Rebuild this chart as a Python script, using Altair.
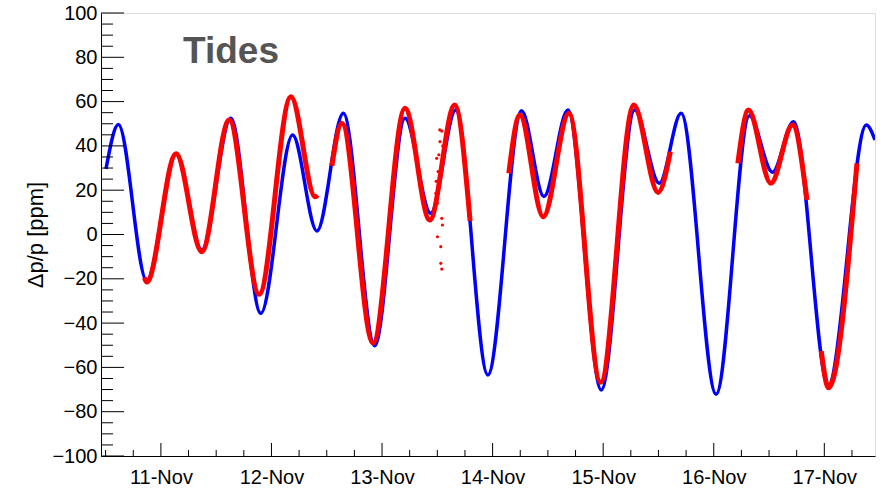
import altair as alt
import pandas as pd

FONT = "Liberation Sans"

# ---- tide model (blue): times and values read at extrema ----
blue_time = [
    "2023-11-10T12:05", "2023-11-10T14:46", "2023-11-10T20:55", "2023-11-11T03:18",
    "2023-11-11T08:52", "2023-11-11T15:10", "2023-11-11T21:41", "2023-11-12T04:35",
    "2023-11-12T09:52", "2023-11-12T15:36", "2023-11-12T22:24", "2023-11-13T04:59",
    "2023-11-13T10:34", "2023-11-13T16:00", "2023-11-13T22:58", "2023-11-14T06:17",
    "2023-11-14T11:08", "2023-11-14T16:21", "2023-11-14T23:35", "2023-11-15T06:50",
    "2023-11-15T12:11", "2023-11-15T16:55", "2023-11-16T00:31", "2023-11-16T07:45",
    "2023-11-16T12:45", "2023-11-16T17:19", "2023-11-17T00:52", "2023-11-17T09:07",
    "2023-11-17T11:00",
]
blue_val = [
    29.6, 49.7, -20.8, 36.2,
    -7.0, 52.5, -35.6, 44.9,
    1.6, 54.7, -50.2, 52.5,
    9.6, 56.2, -63.4, 55.9,
    17.1, 56.2, -70.2, 56.2,
    23.1, 54.7, -72.1, 53.6,
    28.1, 50.9, -68.0, 49.4,
    42.7,
]

# ---- measurements (red), in segments separated by gaps ----
red_seg = [1] * 9 + [2] * 7 + [3] * 8 + [4] * 5 + [5] * 3
red_time = [
    "2023-11-10T20:25", "2023-11-10T20:55", "2023-11-11T03:18", "2023-11-11T08:52",
    "2023-11-11T14:49", "2023-11-11T21:20", "2023-11-12T04:13", "2023-11-12T09:30",
    "2023-11-12T10:01",
    "2023-11-12T13:07", "2023-11-12T15:17", "2023-11-12T22:02", "2023-11-13T04:59",
    "2023-11-13T10:21", "2023-11-13T15:47", "2023-11-13T19:07",
    "2023-11-14T03:31", "2023-11-14T05:55", "2023-11-14T10:59", "2023-11-14T16:34",
    "2023-11-14T23:27", "2023-11-15T06:38", "2023-11-15T11:55", "2023-11-15T14:35",
    "2023-11-16T05:14", "2023-11-16T07:32", "2023-11-16T12:24", "2023-11-16T17:06",
    "2023-11-16T20:14",
    "2023-11-16T23:20", "2023-11-17T00:55", "2023-11-17T07:05",
]
red_val = [
    -19.5, -21.5, 36.5, -7.8,
    51.7, -27.0, 62.2, 17.0,
    17.8,
    31.0, 50.2, -49.0, 57.0,
    6.5, 58.5, 6.1,
    27.6, 54.0, 8.0, 54.7,
    -66.7, 58.5, 19.0, 37.4,
    32.1, 56.2, 23.1, 49.4,
    15.6,
    -52.6, -69.2, 32.1,
]

# scattered measurement points on 13-Nov afternoon
out_time = [
    "2023-11-13T12:32", "2023-11-13T12:58", "2023-11-13T11:52", "2023-11-13T12:35",
    "2023-11-13T12:10", "2023-11-13T11:40", "2023-11-13T12:02", "2023-11-13T12:58",
    "2023-11-13T13:07", "2023-11-13T12:02", "2023-11-13T12:45", "2023-11-13T12:45",
    "2023-11-13T12:58", "2023-11-13T12:20", "2023-11-13T13:10", "2023-11-13T11:45",
]
out_val = [
    47.2, 46.7, 34.4, 41.9,
    28.4, 18.6, 14.1, 7.3,
    4.3, -1.0, -5.5, -13.0,
    -15.6, 36.0, 40.0, 24.0,
]

y_label_values = [-100, -80, -60, -40, -20, 0, 20, 40, 60, 80, 100]
title_text = "Tides"
y_title = "Δp/p [ppm]"

W, H = 774, 443

blue_df = pd.DataFrame({"t": blue_time, "v": blue_val})
red_df = pd.DataFrame({"t": red_time, "v": red_val, "seg": red_seg})
out_df = pd.DataFrame({"t": out_time, "v": out_val})

y_major = pd.DataFrame({"v": [v for v in range(-100, 101, 20)]})
y_minor = pd.DataFrame({"v": [v for v in range(-100, 101, 5) if v % 20 != 0]})
x_all = pd.date_range("2023-11-10 12:00", "2023-11-17 06:00", freq="6h")
x_major = pd.DataFrame({"t": [d.strftime("%Y-%m-%dT%H:%M") for d in x_all if d.hour == 0]})
x_minor = pd.DataFrame({"t": [d.strftime("%Y-%m-%dT%H:%M") for d in x_all if d.hour != 0]})
day_vals = [alt.DateTime(year=2023, month=11, date=d, hours=0) for d in range(11, 18)]

xscale = alt.Scale(domain=[alt.DateTime(year=2023, month=11, date=10, hours=11),
                           alt.DateTime(year=2023, month=11, date=17, hours=11)])
yscale = alt.Scale(domain=[-100, 100], nice=False, zero=False)

xaxis = alt.Axis(values=day_vals, format="%d-%b", ticks=False, tickSize=0, labelPadding=11,
                 labelFontSize=20, labelFont=FONT, labelColor="black", domainColor="black",
                 grid=False, title=None, labelAngle=0, labelFlush=False, labelOverlap=False)
yaxis = alt.Axis(values=y_label_values, ticks=False, tickSize=0, labelPadding=4,
                 labelFontSize=20, labelFont=FONT, labelColor="black", domainColor="black",
                 grid=False, title=y_title, titleFontSize=22, titleFont=FONT,
                 titleFontWeight="normal", titleColor="black", titleX=-59, titleY=221.5,
                 titleBaseline="alphabetic", labelOverlap=False)

X = lambda: alt.X("t:T", scale=xscale, axis=xaxis)
Y = lambda: alt.Y("v:Q", scale=yscale, axis=yaxis)

blue = alt.Chart(blue_df).mark_line(color="#0000ff", strokeWidth=3.5, interpolate="monotone",
                                    clip=True).encode(x=X(), y=Y())
red = alt.Chart(red_df).mark_line(color="#ff0000", strokeWidth=5, interpolate="monotone",
                                  clip=True).encode(x=X(), y=Y(), detail="seg:N")
outl = alt.Chart(out_df).mark_circle(color="#ff0000", size=10, opacity=1).encode(x=X(), y=Y())
ytmaj = alt.Chart(y_major).mark_rule(color="black", strokeWidth=1).encode(
    y=Y(), x=alt.value(0), x2=alt.value(23))
ytmin = alt.Chart(y_minor).mark_rule(color="black", strokeWidth=1).encode(
    y=Y(), x=alt.value(0), x2=alt.value(12))
xtmaj = alt.Chart(x_major).mark_rule(color="black", strokeWidth=1).encode(
    x=X(), y=alt.value(H), y2=alt.value(H - 13))
xtmin = alt.Chart(x_minor).mark_rule(color="black", strokeWidth=1).encode(
    x=X(), y=alt.value(H), y2=alt.value(H - 6))
ttl = alt.Chart(pd.DataFrame({"label": [title_text]})).mark_text(
    font=FONT, fontSize=37, fontWeight="bold", color="#555555", align="left",
    baseline="alphabetic").encode(text="label:N", x=alt.value(82), y=alt.value(50))

chart = alt.layer(blue, red, outl, ytmaj, ytmin, xtmaj, xtmin, ttl).properties(
    width=W, height=H,
    autosize=alt.AutoSizeParams(type="none"),
    padding={"left": 101, "top": 13, "right": 9, "bottom": 32},
).configure_view(stroke="#808080", strokeWidth=1).configure(background="white")

chart.save("out.html", embed_options={"renderer": "svg", "actions": False})
